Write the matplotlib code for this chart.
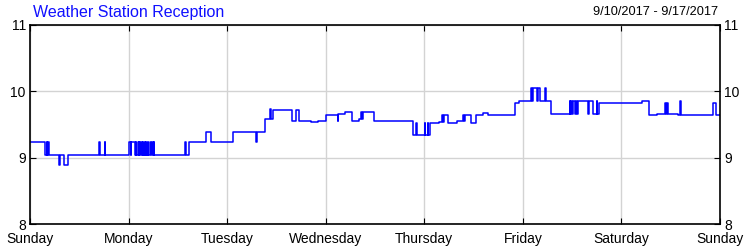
import matplotlib
matplotlib.use('Agg')
import matplotlib.pyplot as plt

plt.rcParams['font.family'] = ['Liberation Sans', 'DejaVu Sans']

# change points: hours since Sunday 00:00 and reception level
hours = [0, 3.73, 4.14, 4.26, 4.50, 4.63, 7.06, 7.30, 8.28, 9.25,
         16.92, 17.04, 18.26, 18.38,
         24.11, 24.59, 24.71, 25.57,
         25.81, 25.93, 26.30, 26.42, 26.66, 26.78, 27.03, 27.15, 27.51, 27.63,
         27.88, 28.00, 28.24, 28.36, 28.73, 28.85, 29.22, 29.34, 29.71, 29.83,
         30.19, 30.31,
         37.86, 38.03, 38.71, 42.85, 44.07, 49.43, 55.03, 55.15, 57.22,
         58.44, 58.56, 59.24, 63.79, 64.65, 65.50, 68.42, 70.13, 72.19,
         74.87, 74.99, 76.70, 78.40, 80.11, 80.71, 80.84, 81.08, 83.76, 88.39,
         93.19, 93.99, 94.11, 96.06, 96.18, 96.79, 96.91, 97.28, 99.59,
         100.32, 100.56, 100.80, 101.78, 103.85, 105.31, 105.68, 105.92,
         107.26, 108.60, 110.30, 111.52, 113.47, 113.96, 118.09, 119.07,
         121.99, 122.23, 122.35, 123.45, 123.57, 124.18, 125.28, 125.52,
         126.79, 131.36, 131.48, 131.73, 131.97, 132.21, 132.58, 132.82,
         133.07, 133.43, 135.87, 135.99, 136.96, 137.94, 138.06, 138.55,
         149.09, 150.80, 152.74, 154.62, 154.79, 154.99, 155.23, 157.86,
         158.27, 158.39, 166.38, 167.03, 168]
level = [9.23, 9.04, 9.23, 9.04, 9.23, 9.04, 8.89, 9.04, 8.89, 9.04,
         9.23, 9.04, 9.23, 9.04,
         9.23, 9.04, 9.23, 9.04,
         9.23, 9.04, 9.23, 9.04, 9.23, 9.04, 9.23, 9.04, 9.23, 9.04,
         9.23, 9.04, 9.23, 9.04, 9.23, 9.04, 9.23, 9.04, 9.23, 9.04,
         9.23, 9.04,
         9.23, 9.04, 9.23, 9.38, 9.23, 9.38, 9.23, 9.38, 9.58,
         9.73, 9.58, 9.72, 9.56, 9.72, 9.56, 9.54, 9.56, 9.65,
         9.56, 9.66, 9.69, 9.56, 9.58, 9.69, 9.58, 9.69, 9.56, 9.55,
         9.34, 9.53, 9.34, 9.53, 9.34, 9.53, 9.34, 9.53, 9.54,
         9.65, 9.54, 9.65, 9.53, 9.55, 9.65, 9.55, 9.65,
         9.53, 9.65, 9.67, 9.65, 9.64, 9.65, 9.83, 9.85,
         10.05, 9.85, 10.05, 9.85, 10.05, 9.85, 10.05, 9.85,
         9.66, 9.85, 9.66, 9.85, 9.66, 9.85, 9.66, 9.85,
         9.66, 9.85, 9.66, 9.85, 9.66, 9.85, 9.66, 9.83,
         9.85, 9.64, 9.66, 9.83, 9.66, 9.83, 9.66, 9.64,
         9.85, 9.64, 9.83, 9.64, 9.64]

days = ['Sunday', 'Monday', 'Tuesday', 'Wednesday', 'Thursday', 'Friday',
        'Saturday', 'Sunday']
yticks = [8, 9, 10, 11]

fig = plt.figure(figsize=(7.5, 2.5), dpi=100)
ax = fig.add_axes([0.04, 0.104, 0.92, 0.796])
ax.plot(hours, level, drawstyle='steps-post', color='#0000ff', lw=1.1)

ax.set_xlim(0, 168)
ax.set_ylim(8, 11)
ax.set_xticks([24 * i for i in range(len(days))])
ax.set_xticklabels(days)
ax.set_yticks(yticks)
ax.grid(True, color='#d3d3d3', lw=1)
ax.set_axisbelow(True)
ax.tick_params(direction='in', length=4, top=True, right=True,
               labelright=True, labelsize=10, pad=3)
ax.tick_params(axis='x', pad=6)
for s in ax.spines.values():
    s.set_linewidth(1.2)

fig.text(0.044, 0.952, 'Weather Station Reception', color='#1010ff',
         fontsize=11.5, va='center', ha='left')
fig.text(0.958, 0.952, '9/10/2017 - 9/17/2017', color='black',
         fontsize=9.2, va='center', ha='right')

fig.savefig('out.png', dpi=100)
